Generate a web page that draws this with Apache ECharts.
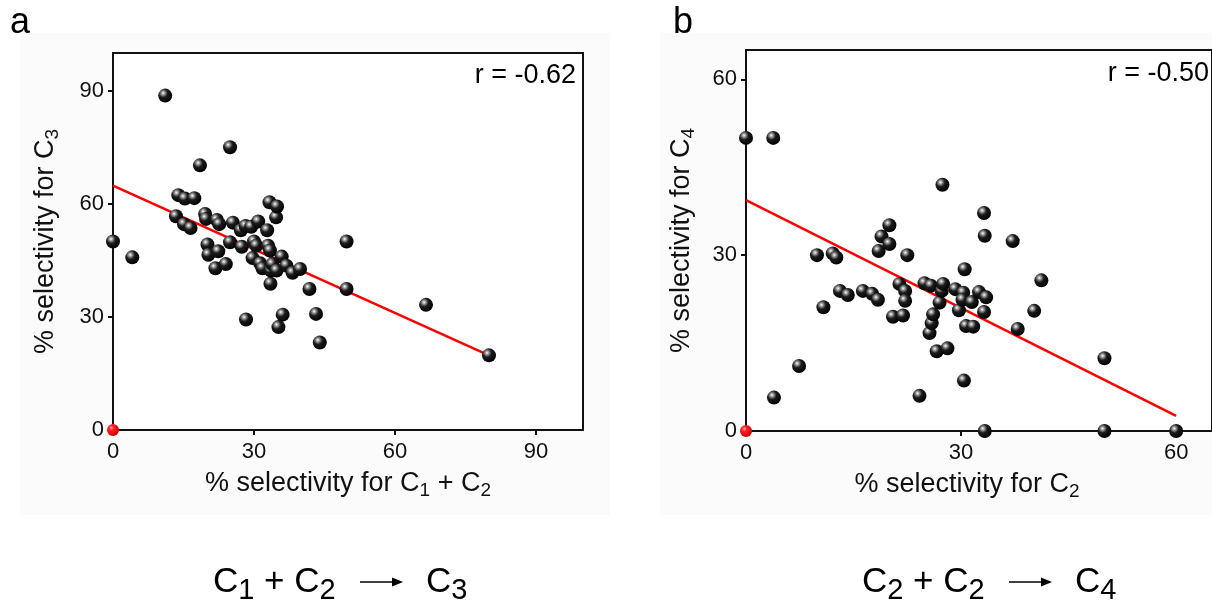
<!DOCTYPE html>
<html>
<head>
<meta charset="utf-8">
<script src="https://cdn.jsdelivr.net/npm/echarts@6/dist/echarts.min.js"></script>
<style>
  html, body { margin: 0; padding: 0; background: #ffffff; }
  #chart { width: 1212px; height: 602px; }
</style>
</head>
<body>
<div id="chart"></div>
<script>
// Panel a: C1 + C2 -> C3
const selC1C2 = [0, 4.1, 11.1, 13.4, 13.9, 15.1, 15.3, 16.5, 17.3, 18.5, 19.6, 19.8, 20.1, 20.3, 21.8, 22.1, 22.4, 22.6, 24.0, 24.9,
  24.9, 25.5, 27.2, 27.4, 28.2, 28.3, 29.4, 29.7, 30.0, 30.5, 30.9, 31.3, 31.8, 32.8, 33.0, 33.3, 33.4, 33.5, 33.6, 33.9,
  34.7, 34.8, 34.9, 35.2, 35.9, 36.1, 36.9, 38.2, 39.8, 41.8, 43.2, 44.0, 49.7, 49.7, 66.6, 80.0];
const selC3 = [50.0, 45.8, 88.7, 56.7, 62.3, 54.6, 61.4, 53.6, 61.5, 70.2, 57.3, 56.0, 49.2, 46.5, 42.9, 55.7, 47.4, 54.6, 44.0, 75.0,
  49.8, 55.0, 53.0, 48.6, 54.1, 29.3, 53.9, 45.6, 50.0, 48.9, 55.3, 44.2, 42.9, 53.0, 48.9, 60.4, 47.6, 38.8, 42.3, 44.0,
  56.4, 42.3, 59.3, 27.3, 46.0, 30.6, 43.6, 41.7, 42.7, 37.4, 30.8, 23.2, 50.0, 37.4, 33.2, 19.8];
const fitAx = [0, 80];
const fitAy = [64.8, 19.8];
const rA = 'r = -0.62';
const reactionA = ['1', '2', '3'];

// Panel b: C2 + C2 -> C4
const selC2 = [0, 3.8, 3.9, 7.4, 9.9, 10.8, 12.1, 12.6, 13.1, 14.2, 16.3, 17.6, 18.4, 18.5, 18.9, 20.0, 20.0, 20.5, 21.4, 21.9,
  22.2, 22.2, 22.5, 24.2, 24.9, 25.6, 25.8, 25.9, 26.1, 26.6, 27.0, 27.3, 27.4, 27.5, 28.1, 29.2, 29.7, 30.3, 30.4, 30.5,
  30.2, 30.7, 31.5, 31.7, 32.5, 33.2, 33.3, 33.5, 33.2, 33.3, 37.2, 37.9, 40.2, 41.2, 50.0, 50.0, 60.0];
const selC4 = [50.0, 50.0, 5.7, 11.1, 30.0, 21.1, 30.3, 29.6, 23.9, 23.2, 23.9, 23.4, 22.4, 30.7, 33.2, 35.1, 31.9, 19.5, 25.1, 19.7,
  23.9, 22.2, 30.0, 6.0, 25.2, 16.7, 24.8, 18.4, 19.9, 13.6, 21.9, 23.9, 42.0, 25.1, 14.1, 24.2, 20.6, 23.6, 8.6, 27.6,
  22.4, 17.9, 22.0, 17.8, 23.7, 37.2, 33.3, 22.8, 20.3, 0, 32.4, 17.4, 20.5, 25.7, 12.4, 0, 0];
const fitBx = [0, 60];
const fitBy = [39.4, 2.6];
const rB = 'r = -0.50';
const reactionB = ['2', '2', '4'];

const ticksA = [0, 30, 60, 90];
const ticksB = [0, 30, 60];
const origin = [[0, 0]];

const FONT = '"Liberation Sans", Arial, sans-serif';
const INK = '#111111';

const pairs = (xs, ys) => xs.map((x, i) => [x, ys[i]]);

const ball = {
  type: 'radial', x: 0.36, y: 0.32, r: 0.7,
  colorStops: [
    { offset: 0, color: '#ffffff' },
    { offset: 0.18, color: '#9a9a9a' },
    { offset: 0.45, color: '#1c1c1c' },
    { offset: 1, color: '#000000' }
  ]
};
const redBall = {
  type: 'radial', x: 0.36, y: 0.32, r: 0.7,
  colorStops: [
    { offset: 0, color: '#ffb0b0' },
    { offset: 0.3, color: '#ff2020' },
    { offset: 1, color: '#d00000' }
  ]
};

const subRich = {
  s: { fontSize: 19, lineHeight: 18, verticalAlign: 'bottom', fontFamily: FONT, color: INK }
};

function makeX(gridIndex, max, ticks, name, pad) {
  return {
    type: 'value', gridIndex, min: 0, max,
    splitLine: { show: false },
    axisLine: { show: true, lineStyle: { color: INK, width: 2 } },
    axisTick: { show: true, inside: false, length: 5, lineStyle: { color: INK, width: 2 }, customValues: ticks },
    axisLabel: { fontSize: 22, fontFamily: FONT, color: INK, margin: 11, customValues: ticks },
    name, nameLocation: 'middle', nameGap: 35,
    nameTextStyle: { fontSize: 27, fontFamily: FONT, color: INK, lineHeight: 32, padding: pad, rich: subRich }
  };
}
function makeY(gridIndex, max, ticks, name, gap) {
  return {
    type: 'value', gridIndex, min: 0, max,
    splitLine: { show: false },
    axisLine: { show: true, lineStyle: { color: INK, width: 2 } },
    axisTick: { show: true, inside: false, length: 5, lineStyle: { color: INK, width: 2 }, customValues: ticks },
    axisLabel: { fontSize: 22, fontFamily: FONT, color: INK, margin: 9, customValues: ticks },
    name, nameLocation: 'middle', nameGap: gap,
    nameTextStyle: { fontSize: 27, fontFamily: FONT, color: INK, lineHeight: 32, rich: subRich }
  };
}

function scatter(i, data, color, size) {
  return {
    type: 'scatter', xAxisIndex: i, yAxisIndex: i, data, symbolSize: size,
    clip: false, itemStyle: { color, opacity: 1 }, z: 5
  };
}
function fit(i, xs, ys) {
  return {
    type: 'line', xAxisIndex: i, yAxisIndex: i, data: pairs(xs, ys),
    showSymbol: false, lineStyle: { color: '#ff0000', width: 2.5 }, z: 4, silent: true
  };
}

// reaction scheme under each panel: C_a + C_b --> C_c
function reaction(x0, subs) {
  const main = (text, dx) => ({ type: 'text', left: x0 + dx, top: 565, style: { text, font: '35px ' + FONT, fill: '#000' } });
  const sub = (text, dx) => ({ type: 'text', left: x0 + dx, top: 576, style: { text, font: '29px ' + FONT, fill: '#000' } });
  return [
    main('C', 0), sub(subs[0], 25.3),
    main(' + C', 41.4), sub(subs[1], 106.5),
    { type: 'line', shape: { x1: x0 + 147, y1: 582, x2: x0 + 181, y2: 582 }, style: { stroke: '#000', lineWidth: 1.5 } },
    { type: 'polygon', shape: { points: [[x0 + 179, 577.5], [x0 + 190, 582], [x0 + 179, 586.5]] }, style: { fill: '#000' } },
    main('C', 213), sub(subs[2], 238.3)
  ];
}

const chart = echarts.init(document.getElementById('chart'), null, { renderer: 'canvas' });
chart.setOption({
  backgroundColor: '#ffffff',
  animation: false,
  grid: [
    { left: 113, top: 53, width: 470, height: 377, show: true, backgroundColor: '#ffffff', borderColor: INK, borderWidth: 2, containLabel: false },
    { left: 746, top: 50, width: 474, height: 381, show: true, backgroundColor: '#ffffff', borderColor: INK, borderWidth: 2, containLabel: false }
  ],
  xAxis: [
    makeX(0, 100, ticksA, '% selectivity for C{s|1} + C{s|2}', [0, 0, 0, 0]),
    makeX(1, 65, ticksB, '% selectivity for C{s|2}', [0, 24, 0, 0])
  ],
  yAxis: [
    makeY(0, 100, ticksA, '% selectivity for C{s|3}', 51),
    makeY(1, 65, ticksB, '% selectivity for C{s|4}', 48)
  ],
  series: [
    fit(0, fitAx, fitAy),
    scatter(0, pairs(selC1C2, selC3), ball, 14),
    scatter(0, origin, redBall, 12),
    fit(1, fitBx, fitBy),
    scatter(1, pairs(selC2, selC4), ball, 14),
    scatter(1, origin, redBall, 12)
  ],
  graphic: [
    { type: 'rect', z: -10, shape: { x: 20, y: 33, width: 590, height: 482 }, style: { fill: '#fbfbfb' } },
    { type: 'rect', z: -10, shape: { x: 660, y: 33, width: 552, height: 482 }, style: { fill: '#fbfbfb' } },
    { type: 'text', left: 10, top: 5, style: { text: 'a', font: '36px ' + FONT, fill: '#000' } },
    { type: 'text', left: 673, top: 5, style: { text: 'b', font: '36px ' + FONT, fill: '#000' } },
    { type: 'text', right: 1212 - 576, top: 62, style: { text: rA, font: '27px ' + FONT, fill: '#000' } },
    { type: 'text', right: 3, top: 60, style: { text: rB, font: '27px ' + FONT, fill: '#000' } },
    ...reaction(213, reactionA),
    ...reaction(862, reactionB)
  ]
});
</script>
</body>
</html>
